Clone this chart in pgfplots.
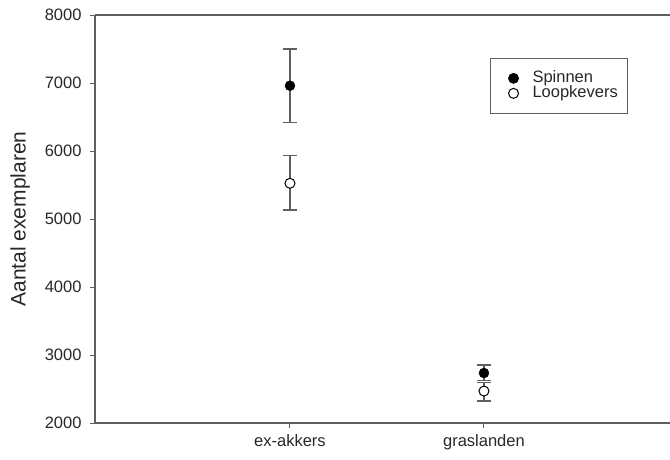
\documentclass[border=0pt]{standalone}
\usepackage{pgfplots}
\pgfplotsset{compat=1.18}
\usepackage{fontspec}
\setmainfont{Liberation Sans}
\definecolor{axgray}{RGB}{95,95,95}
\definecolor{txtgray}{RGB}{40,40,40}
\pgfplotstableread{
x y ep em
0 6960 540 543
1 2735 118 115
}\spinnen
\pgfplotstableread{
x y ep em
0 5525 406 393
1 2470 120 146
}\loopkevers
\begin{document}
\begin{tikzpicture}
\begin{axis}[
  at={(0pt,0pt)}, anchor=south west,
  scale only axis, width=575pt, height=408pt,
  xmin=-1.005, xmax=1.959,
  ymin=2000, ymax=8000,
  axis x line*=bottom, axis y line*=left,
  axis line style={axgray, line width=1.1pt, -},
  xtick={0,1}, xticklabels={ex-akkers, graslanden},
  ytick={2000,3000,4000,5000,6000,7000,8000},
  tick style={axgray, line width=1pt},
  major tick length=5pt,
  tick align=outside,
  /pgf/number format/assume math mode=true,
  /pgf/number format/1000 sep={},
  ticklabel style={font=\fontsize{16.5}{18}\selectfont, text=txtgray},
  yticklabel style={xshift=-5pt},
  xticklabel style={yshift=-3pt},
  ylabel={Aantal exemplaren},
  ylabel style={font=\fontsize{21}{24}\selectfont, text=txtgray, yshift=8pt},
  clip=false,
  legend style={at={(0.687,0.895)}, anchor=north west, draw=axgray, line width=1pt,
    font=\fontsize{16.5}{15}\selectfont, text=txtgray,
    inner xsep=10pt, inner ysep=12.5pt,
    nodes={inner sep=0pt, text height=11.5pt, text depth=3.5pt},
    row sep=0pt, column sep=0pt},
  legend cell align=left,
  legend image code/.code={\path[draw=none, fill=none] (0pt,0pt) -- (32pt,0pt);
    \draw[#1, line width=0.8pt] plot coordinates {(13pt,0pt)};},
]
\addplot[only marks, mark=*, mark size=5pt, mark options={fill=black, draw=black},
  error bars/.cd, y dir=both, y explicit,
  error bar style={axgray, line width=1.2pt},
  error mark options={rotate=90, mark size=7pt, axgray, line width=1.2pt}]
  table[x=x, y=y, y error plus=ep, y error minus=em] {\spinnen};
\addlegendentry{Spinnen}
\addplot[only marks, mark=*, mark size=5pt, mark options={fill=white, draw=black, line width=1pt},
  error bars/.cd, y dir=both, y explicit,
  error bar style={axgray, line width=1.2pt},
  error mark options={rotate=90, mark size=7pt, axgray, line width=1.2pt}]
  table[x=x, y=y, y error plus=ep, y error minus=em] {\loopkevers};
\addlegendentry{Loopkevers}
\draw[axgray, line width=1.1pt] (rel axis cs:0,1) -- (rel axis cs:1,1);
\end{axis}
\pgfresetboundingbox
\path (-95pt,-36pt) rectangle (575pt,423pt);
\end{tikzpicture}
\end{document}
